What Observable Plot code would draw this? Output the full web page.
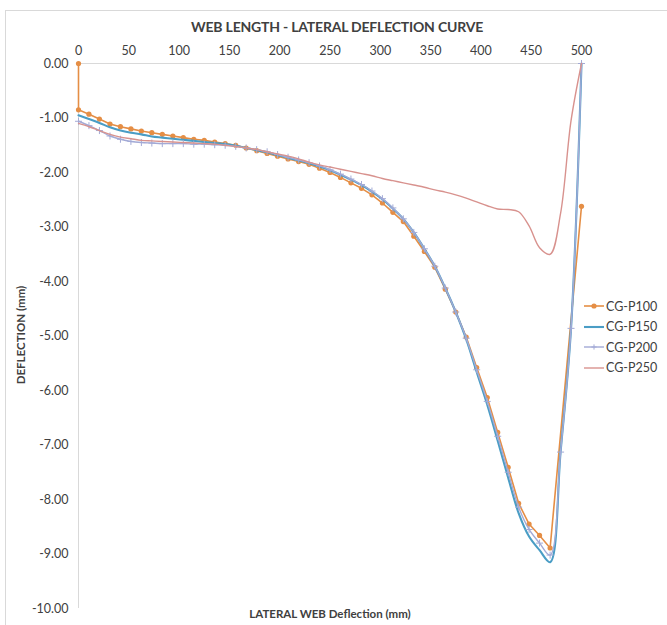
<!DOCTYPE html>
<html><head><meta charset="utf-8">
<script src="https://cdn.jsdelivr.net/npm/d3@7"></script>
<script src="https://cdn.jsdelivr.net/npm/@observablehq/plot@0.6"></script>
<style>
body{margin:0;background:#fff;overflow:hidden;font-family:Lato,"Open Sans",sans-serif;color:#404040;}
#wrap{position:relative;width:667px;height:625px;overflow:hidden;}
#frame{position:absolute;left:5px;top:10px;width:720px;height:720px;border:1px solid #d9d9d9;box-sizing:border-box;}
#chart{position:absolute;left:0;top:0;}
#title{position:absolute;left:0;width:674px;top:18px;text-align:center;font-weight:bold;font-size:14px;color:#404040;letter-spacing:-0.2px;}
#xtitle{position:absolute;left:0;width:660px;top:607px;text-align:center;font-weight:bold;font-size:11.5px;color:#404040;}
#ytitle{position:absolute;left:20px;top:335px;transform:translate(-50%,-50%) rotate(-90deg);font-weight:bold;font-size:11.5px;white-space:nowrap;color:#404040;}
#legend{position:absolute;left:584px;top:296px;font-size:12.5px;color:#404040;}
.li{display:flex;align-items:center;height:20.5px;}
.li svg{margin-right:2px;}
</style></head>
<body>
<div id="wrap">
  <div id="frame"></div>
  <div id="chart"></div>
  <div id="title">WEB LENGTH - LATERAL DEFLECTION CURVE</div>
  <div id="xtitle">LATERAL WEB Deflection (mm)</div>
  <div id="ytitle">DEFLECTION (mm)</div>
  <div id="legend"></div>
</div>
<script>
// ---- data ----
const seriesNames = ["CG-P100", "CG-P150", "CG-P200", "CG-P250"];
const seriesColors = ["#E58E45", "#4A9DC5", "#A3AAD6", "#D8928E"];
const xTicks = [0, 50, 100, 150, 200, 250, 300, 350, 400, 450, 500];
const yTicks = [0, -1, -2, -3, -4, -5, -6, -7, -8, -9, -10];

// node positions along the web
const nodes = [0, 10.4, 20.8, 31.3, 41.7, 52.1, 62.5, 72.9, 83.3, 93.8, 104.2, 114.6, 125, 135.4, 145.8, 156.3, 166.7, 177.1, 187.5, 197.9, 208.3, 218.8, 229.2, 239.6, 250, 260.4, 270.8, 281.3, 291.7, 302.1, 312.5, 322.9, 333.3, 343.8, 354.2, 364.6, 375, 385.4, 395.8, 406.3, 416.7, 427.1, 437.5, 447.9, 458.3, 468.8, 479.2, 489.6, 500];

const p100X = [0, 0, 10.4, 20.8, 31.3, 41.7, 52.1, 62.5, 72.9, 83.3, 93.8, 104.2, 114.6, 125, 135.4, 145.8, 156.3, 166.7, 177.1, 187.5, 197.9, 208.3, 218.8, 229.2, 239.6, 250, 260.4, 270.8, 281.3, 291.7, 302.1, 312.5, 322.9, 333.3, 343.8, 354.2, 364.6, 375, 385.4, 395.8, 406.3, 416.7, 427.1, 437.5, 447.9, 458.3, 468.8, 500];
const p100Y = [0.00, -0.85, -0.93, -1.02, -1.11, -1.16, -1.20, -1.24, -1.27, -1.30, -1.33, -1.36, -1.39, -1.41, -1.44, -1.47, -1.50, -1.55, -1.60, -1.65, -1.70, -1.75, -1.80, -1.85, -1.92, -2.00, -2.09, -2.19, -2.29, -2.41, -2.56, -2.73, -2.90, -3.17, -3.45, -3.74, -4.14, -4.56, -5.02, -5.58, -6.13, -6.77, -7.41, -8.07, -8.45, -8.66, -8.89, -2.62];

const p150Y = [-0.95, -1.02, -1.09, -1.17, -1.23, -1.27, -1.30, -1.34, -1.36, -1.38, -1.40, -1.42, -1.44, -1.46, -1.48, -1.51, -1.55, -1.59, -1.63, -1.68, -1.73, -1.78, -1.83, -1.89, -1.96, -2.04, -2.13, -2.23, -2.35, -2.49, -2.66, -2.85, -3.10, -3.40, -3.72, -4.12, -4.56, -5.06, -5.66, -6.26, -6.92, -7.60, -8.25, -8.68, -8.93, -9.15, -7.13, -4.86, 0.00];

const p200Y = [-1.06, -1.14, -1.23, -1.33, -1.39, -1.43, -1.45, -1.46, -1.47, -1.47, -1.47, -1.48, -1.48, -1.49, -1.50, -1.52, -1.55, -1.58, -1.62, -1.67, -1.72, -1.77, -1.82, -1.88, -1.95, -2.03, -2.12, -2.22, -2.34, -2.48, -2.65, -2.85, -3.10, -3.40, -3.72, -4.12, -4.56, -5.04, -5.62, -6.20, -6.84, -7.50, -8.14, -8.55, -8.80, -9.02, -7.13, -4.86, 0.00];

const p250Y = [-1.10, -1.16, -1.23, -1.30, -1.35, -1.38, -1.41, -1.42, -1.43, -1.44, -1.45, -1.46, -1.47, -1.48, -1.50, -1.52, -1.55, -1.58, -1.62, -1.66, -1.70, -1.75, -1.81, -1.86, -1.90, -1.94, -1.98, -2.02, -2.06, -2.11, -2.15, -2.19, -2.23, -2.27, -2.32, -2.36, -2.41, -2.47, -2.54, -2.61, -2.67, -2.68, -2.72, -2.98, -3.38, -3.50, -2.75, -1.05, 0.00];

// ---- build tables ----
const t100 = p100X.map((x, i) => ({x, y: p100Y[i]}));
const t150 = nodes.map((x, i) => ({x, y: p150Y[i]}));
const t200 = nodes.map((x, i) => ({x, y: p200Y[i]}));
const t250 = nodes.map((x, i) => ({x, y: p250Y[i]}));

const curve = "catmull-rom";
const chart = Plot.plot({
  width: 667, height: 625,
  marginLeft: 78, marginRight: 86, marginTop: 63, marginBottom: 17,
  x: {domain: [0, 500]},
  y: {domain: [-10, 0]},
  style: {fontFamily: "Lato, 'Open Sans', sans-serif", fontSize: "12.5px", color: "#404040", background: "transparent"},
  marks: [
    Plot.axisX({anchor: "top", ticks: xTicks, tickSize: 0, tickPadding: 9, label: null}),
    Plot.axisY({anchor: "left", ticks: yTicks, tickSize: 0, tickPadding: 10, tickFormat: d => d.toFixed(2), label: null}),
    Plot.ruleY([0], {stroke: "#d9d9d9", strokeWidth: 1}),
    Plot.ruleX([0], {stroke: "#d9d9d9", strokeWidth: 1}),
    Plot.line(t100, {x: "x", y: "y", stroke: seriesColors[0], strokeWidth: 1.6, curve: "linear"}),
    Plot.dot(t100, {x: "x", y: "y", fill: seriesColors[0], r: 2.6}),
    Plot.line(t150, {x: "x", y: "y", stroke: seriesColors[1], strokeWidth: 2.1, curve}),
    Plot.line(t200, {x: "x", y: "y", stroke: seriesColors[2], strokeWidth: 1.4, curve}),
    Plot.dot(t200, {x: "x", y: "y", stroke: seriesColors[2], symbol: "plus", r: 2.4, strokeWidth: 1}),
    Plot.line(t250, {x: "x", y: "y", stroke: seriesColors[3], strokeWidth: 1.4, curve})
  ]
});
document.getElementById("chart").appendChild(chart);

// ---- legend ----
const leg = document.getElementById("legend");
seriesNames.forEach((name, i) => {
  const row = document.createElement("div");
  row.className = "li";
  const c = seriesColors[i];
  let marker = "";
  if (i === 0) marker = `<circle cx="10" cy="6" r="2.6" fill="${c}"/>`;
  if (i === 2) marker = `<path d="M10 3.4V8.6M7.4 6H12.6" stroke="${c}" stroke-width="1"/>`;
  const sw = i === 1 ? 2.1 : (i === 0 ? 1.6 : 1.4);
  row.innerHTML = `<svg width="20" height="12"><line x1="0" y1="6" x2="20" y2="6" stroke="${c}" stroke-width="${sw}"/>${marker}</svg><span>${name}</span>`;
  leg.appendChild(row);
});
</script>
</body></html>
